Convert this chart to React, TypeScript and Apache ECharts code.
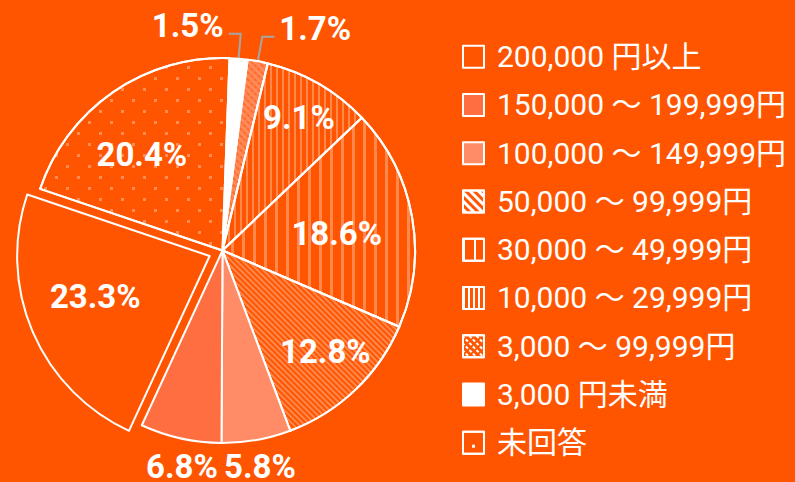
import React, { useEffect, useRef } from 'react';
import * as echarts from 'echarts';

// ---- data (clockwise from the top of the pie) ----
const CATEGORIES = [
  '3,000 円未満',
  '3,000 〜 99,999円',
  '10,000 〜 29,999円',
  '30,000 〜 49,999円',
  '50,000 〜 99,999円',
  '100,000 〜 149,999円',
  '150,000 〜 199,999円',
  '200,000 円以上',
  '未回答',
];
const VALUES = [1.5, 1.7, 9.1, 18.6, 12.8, 5.8, 6.8, 23.3, 20.4];
const LEGEND_ORDER = [
  '200,000 円以上',
  '150,000 〜 199,999円',
  '100,000 〜 149,999円',
  '50,000 〜 99,999円',
  '30,000 〜 49,999円',
  '10,000 〜 29,999円',
  '3,000 〜 99,999円',
  '3,000 円未満',
  '未回答',
];
const EXPLODED = '200,000 円以上';

// ---- layout & style ----
const BG = '#ff5500';
const FONT = "Roboto, 'Noto Sans CJK JP', sans-serif";
const CENTER = [222.5, 250.5];
const RADIUS = 192.5;
const START_ANGLE = 87.9;
const EXPLODE_OFFSET = 14;
const LABEL_LIFT = 8;
// label with leader line: side (+1 right, -1 left)
const LINE_LABEL_SIDE: Record<string, number> = {
  '3,000 円未満': -1,
  '3,000 〜 99,999円': 1,
};
// other labels: [radius fraction, clockwise angle shift in degrees]
const LABEL_PLACE: Record<string, [number, number]> = {
  '10,000 〜 29,999円': [0.795, 0],
  '30,000 〜 49,999円': [0.6, 1.9],
  '50,000 〜 99,999円': [0.75, -1.8],
  '100,000 〜 149,999円': [1.14, 0.3],
  '150,000 〜 199,999円': [1.14, -1.9],
  '200,000 円以上': [0.63, 3.8],
  '未回答': [0.65, -5.5],
};

const W = (a: number) => `rgba(255,255,255,${a})`;
const DIAG = Math.PI / 4;
const SLICE_COLOR: Record<string, string> = {
  '3,000 円未満': '#ffffff',
  '3,000 〜 99,999円': '#ff8a5c',
  '10,000 〜 29,999円': BG,
  '30,000 〜 49,999円': BG,
  '50,000 〜 99,999円': BG,
  '100,000 〜 149,999円': '#ff8c66',
  '150,000 〜 199,999円': '#ff6e40',
  '200,000 円以上': BG,
  '未回答': BG,
};
const SLICE_DECAL: Record<string, any> = {
  '3,000 〜 99,999円': { symbol: 'rect', symbolSize: 1, color: 'rgba(255,85,0,0.55)', dashArrayX: [4, 1], dashArrayY: [2, 3], rotation: DIAG },
  '10,000 〜 29,999円': { symbol: 'rect', symbolSize: 1, color: W(0.3), dashArrayX: [2, 4], dashArrayY: [1, 0], rotation: 0 },
  '30,000 〜 49,999円': { symbol: 'rect', symbolSize: 1, color: W(0.3), dashArrayX: [3, 8], dashArrayY: [1, 0], rotation: 0 },
  '50,000 〜 99,999円': { symbol: 'rect', symbolSize: 1, color: W(0.3), dashArrayX: [1, 0], dashArrayY: [1.5, 2], rotation: DIAG },
  '未回答': { symbol: 'rect', symbolSize: 1, color: W(0.32), dashArrayX: [[3, 19], [0, 11, 3, 8]], dashArrayY: [3, 8], rotation: 0 },
};
const LEGEND_COLOR: Record<string, string> = {
  '3,000 円未満': '#ffffff',
  '100,000 〜 149,999円': '#ff8c66',
  '150,000 〜 199,999円': '#ff6e40',
};
const LEGEND_DECAL: Record<string, any> = {
  '50,000 〜 99,999円': { symbol: 'rect', symbolSize: 1, color: '#fff', dashArrayX: [1, 0], dashArrayY: [3, 3], rotation: DIAG },
  '30,000 〜 49,999円': { symbol: 'rect', symbolSize: 1, color: '#fff', dashArrayX: [2, 9], dashArrayY: [1, 0], rotation: 0 },
  '10,000 〜 29,999円': { symbol: 'rect', symbolSize: 1, color: '#fff', dashArrayX: [2, 3], dashArrayY: [1, 0], rotation: 0 },
  '3,000 〜 99,999円': { symbol: 'rect', symbolSize: 1, color: '#fff', dashArrayX: [3, 2], dashArrayY: [2, 3], rotation: DIAG },
  '未回答': { symbol: 'rect', symbolSize: 1, color: '#fff', dashArrayX: [0, 9, 3, 10], dashArrayY: [0, 13, 3, 6], rotation: 0 },
};

export default function App() {
  const ref = useRef<HTMLDivElement>(null);

  useEffect(() => {
    const chart = echarts.init(ref.current!, undefined, { renderer: 'svg' });
    const total = VALUES.reduce((a, b) => a + b, 0);
    const midCw: number[] = [];
    let acc = 0;
    VALUES.forEach((v) => {
      midCw.push(((acc + v / 2) / total) * 360);
      acc += v;
    });
    const exIdx = CATEGORIES.indexOf(EXPLODED);
    const exTheta = ((START_ANGLE - midCw[exIdx]) * Math.PI) / 180;
    const exCenter = [
      CENTER[0] + EXPLODE_OFFSET * Math.cos(exTheta),
      CENTER[1] - EXPLODE_OFFSET * Math.sin(exTheta),
    ];
    const centers = [CENTER, exCenter];

    const labelLayout = (p: any) => {
      const i = p.dataIndex;
      const name = CATEGORIES[i];
      const side = LINE_LABEL_SIDE[name];
      if (side) {
        const pts = p.labelLinePoints;
        if (!pts) return {};
        const [p1, p2, p3] = pts;
        const len2 = Math.abs(p3[0] - p2[0]);
        const q3 = [p2[0] + side * len2, p2[1]];
        return {
          x: q3[0] + side * 5,
          y: q3[1] - LABEL_LIFT,
          align: side > 0 ? 'left' : 'right',
          verticalAlign: 'middle',
          labelLinePoints: [p1, p2, q3],
        };
      }
      const place = LABEL_PLACE[name];
      if (!place) return {};
      const c = centers[p.seriesIndex] || CENTER;
      const theta = ((START_ANGLE - midCw[i] - place[1]) * Math.PI) / 180;
      const rr = place[0] * RADIUS;
      return {
        x: c[0] + rr * Math.cos(theta),
        y: c[1] - rr * Math.sin(theta),
        align: 'center',
        verticalAlign: 'middle',
      };
    };

    const labelBase = {
      show: true,
      position: 'inside',
      color: '#fff',
      fontSize: 33,
      fontWeight: 'bold',
      fontFamily: FONT,
      formatter: (p: any) => `${Number(p.value).toFixed(1)}%`,
    };
    const hidden = {
      itemStyle: { color: 'transparent', borderWidth: 0, decal: 'none' },
      label: { show: false },
      labelLine: { show: false },
    };

    const pieCommon = {
      type: 'pie',
      radius: RADIUS,
      startAngle: START_ANGLE,
      clockwise: true,
      avoidLabelOverlap: false,
      emphasis: { disabled: true },
      itemStyle: { borderColor: '#fff', borderWidth: 2 },
      label: labelBase,
      labelLine: { show: false },
      labelLayout,
    };

    const mainData = CATEGORIES.map((name, i) => {
      if (name === EXPLODED) return { name, value: VALUES[i], ...hidden };
      const item: any = {
        name,
        value: VALUES[i],
        itemStyle: {
          color: SLICE_COLOR[name],
          decal: SLICE_DECAL[name] || 'none',
        },
      };
      if (LINE_LABEL_SIDE[name]) {
        item.label = { position: 'outside' };
        item.labelLine = {
          show: true,
          length: 25,
          length2: 12,
          smooth: false,
          lineStyle: { color: '#a6a6a6', width: 2 },
        };
      }
      return item;
    });
    const explodedData = CATEGORIES.map((name, i) => {
      if (name !== EXPLODED) return { name, value: VALUES[i], ...hidden };
      return {
        name,
        value: VALUES[i],
        itemStyle: { color: SLICE_COLOR[name], decal: SLICE_DECAL[name] || 'none' },
      };
    });

    const option: any = {
      animation: false,
      backgroundColor: BG,
      legend: {
        orient: 'vertical',
        left: 457,
        top: 36.7,
        itemWidth: 21,
        itemHeight: 22,
        itemGap: 18.25,
        icon: 'rect',
        selectedMode: false,
        textStyle: {
          color: '#fff',
          fontSize: 30,
          lineHeight: 30,
          fontFamily: FONT,
          padding: [0, 0, 0, 8],
        },
        data: LEGEND_ORDER.map((name) => ({
          name,
          itemStyle: {
            color: LEGEND_COLOR[name] || BG,
            borderColor: '#fff',
            borderWidth: 2,
            decal: LEGEND_DECAL[name] || 'none',
          },
        })),
      },
      series: [
        { ...pieCommon, name: 'main', center: CENTER, data: mainData },
        { ...pieCommon, name: 'exploded', center: exCenter, silent: true, data: explodedData },
      ],
    };
    chart.setOption(option);
    return () => chart.dispose();
  }, []);

  return (
    <div
      ref={ref}
      style={{ position: 'fixed', left: 0, top: 0, width: 795, height: 482 }}
    />
  );
}
